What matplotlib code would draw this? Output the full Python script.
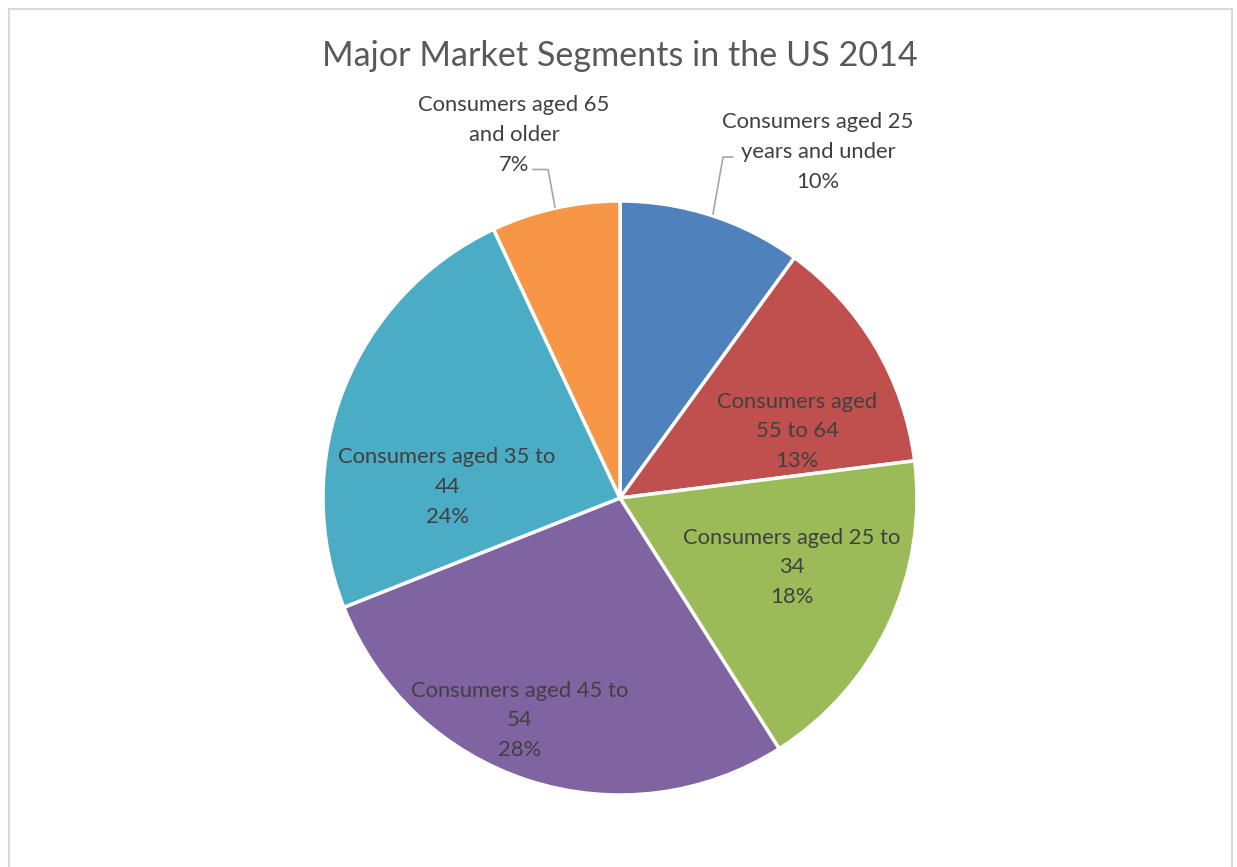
import matplotlib
matplotlib.use("Agg")
import matplotlib.pyplot as plt
from matplotlib.patches import Rectangle

title = "Major Market Segments in the US 2014"
categories = [
    "Consumers aged 25\nyears and under",
    "Consumers aged\n55 to 64",
    "Consumers aged 25 to\n34",
    "Consumers aged 45 to\n54",
    "Consumers aged 35 to\n44",
    "Consumers aged 65\nand older",
]
values = [10, 13, 18, 28, 24, 7]
colors = ["#4F81BD", "#C0504D", "#9BBB59", "#8064A2", "#4BACC6", "#F79646"]

# label positions relative to center, in radius units (layout)
label_pos = [(0.667, 1.165), (0.596, 0.225), (0.579, -0.233),
             (-0.337, -0.748), (-0.582, 0.037), (-0.357, 1.222)]
# leader lines for outside labels (in radius units): list of points
leaders = {0: [(0.313, 0.956), (0.347, 1.148), (0.380, 1.148)],
           5: [(-0.219, 0.980), (-0.242, 1.106), (-0.293, 1.106)]}

plt.rcParams['font.family'] = ['Lato', 'DejaVu Sans']
W, H = 1237, 867
fig = plt.figure(figsize=(W / 100, H / 100), dpi=100)
ax = fig.add_axes([0, 0, 1, 1])
ax.set_xlim(0, W)
ax.set_ylim(0, H)
ax.set_aspect('equal')
ax.axis('off')

cx, cy, R = 620, H - 498, 297
ax.add_patch(Rectangle((8.5, -10), 1223, H - 9 + 10, fill=False,
                       edgecolor="#D9D9D9", linewidth=1.5))

wedges, _ = ax.pie(values, colors=colors, startangle=90, counterclock=False,
                   center=(cx, cy), radius=R,
                   wedgeprops=dict(edgecolor="white", linewidth=2.5))
ax.set_xlim(0, W)
ax.set_ylim(0, H)

for i, (cat, v) in enumerate(zip(categories, values)):
    dx, dy = label_pos[i]
    ax.text(cx + dx * R, cy + dy * R, f"{cat}\n{v}%", ha="center", va="center",
            fontsize=15.8, color="#404040", linespacing=1.6)

for i, pts in leaders.items():
    xs = [cx + p[0] * R for p in pts]
    ys = [cy + p[1] * R for p in pts]
    ax.plot(xs, ys, color="#A6A6A6", linewidth=1.2)

ax.text(620, H - 56, title, ha="center", va="center", fontsize=24.6, color="#595959")

fig.savefig("out.png", dpi=100)
